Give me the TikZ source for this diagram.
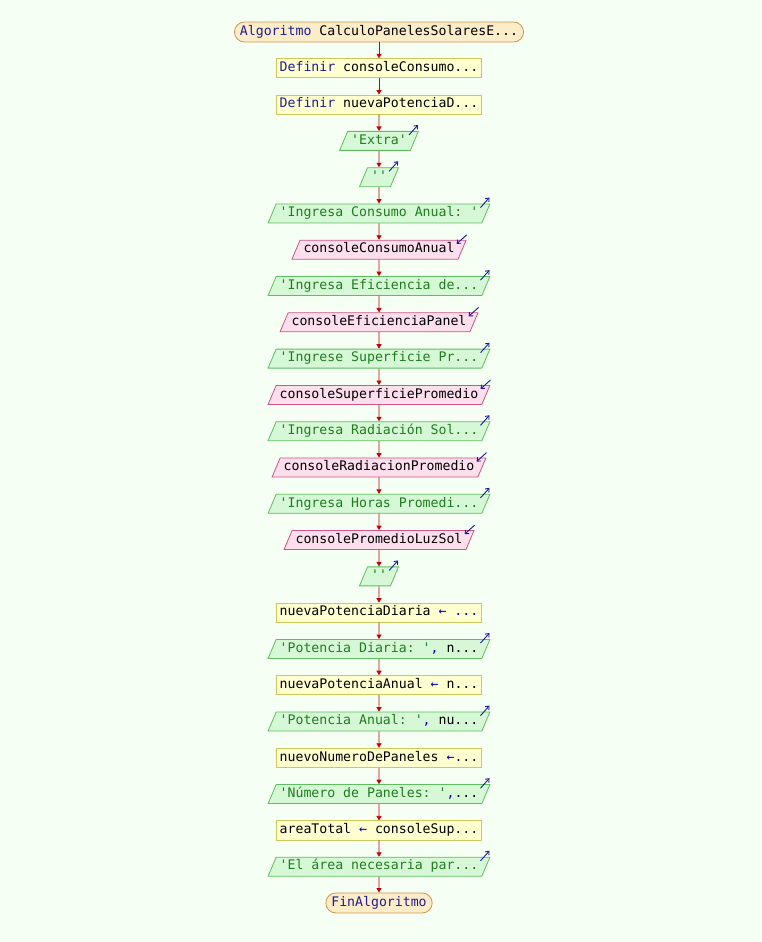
\documentclass[tikz,border=0pt]{standalone}
\usepackage{fontspec}
\setmonofont{DejaVu Sans Mono}
\usetikzlibrary{arrows.meta,positioning,shapes.geometric}

\definecolor{bgpale}{RGB}{246,255,243}
\definecolor{termfill}{RGB}{253,236,200}
\definecolor{termline}{RGB}{205,150,80}
\definecolor{procfill}{RGB}{255,255,208}
\definecolor{procline}{RGB}{205,200,90}
\definecolor{outfill}{RGB}{214,248,214}
\definecolor{outborder}{RGB}{95,190,95}
\definecolor{infill}{RGB}{252,222,236}
\definecolor{inborder}{RGB}{205,85,135}
\definecolor{kwblue}{RGB}{30,30,150}
\definecolor{strgreen}{RGB}{30,125,30}
\definecolor{flowred}{RGB}{200,0,0}
\definecolor{markblue}{RGB}{25,25,160}

\newcommand{\kwd}[1]{\textcolor{kwblue}{#1}}
\newcommand{\opr}[1]{\textcolor{blue!75!black}{#1}}

\begin{document}
\begin{tikzpicture}[x=1pt, y=1pt,
  node distance=36.29pt, on grid,
  every node/.style={font=\ttfamily\fontsize{13.2}{15}\selectfont,
    text height=9.5pt, text depth=3pt, line width=0.8pt},
  terminal/.style={draw=termline, fill=termfill, rounded corners=10pt,
    minimum height=20pt, inner xsep=5.5pt},
  process/.style={draw=procline, fill=procfill, minimum height=19pt,
    minimum width=205pt, inner xsep=3.5pt},
  io/.style={trapezium, trapezium left angle=67, trapezium right angle=113,
    inner xsep=3.5pt, inner ysep=3.25pt},
  outbox/.style={io, draw=outborder, fill=outfill, text=strgreen},
  inbox/.style={io, draw=inborder, fill=infill},
  flow/.style={draw=flowred, line width=0.8pt, -{Triangle[length=4.5pt,width=5pt]}},
  iomark/.style={draw=markblue, line width=0.9pt, -{Straight Barb[length=3pt,width=5pt]}},
]
  % page background
  \fill[bgpale] (0,0) rectangle (761,-942);

  \node[terminal] (start) at (379,-32) {\kwd{Algoritmo} CalculoPanelesSolaresE...};
  \node[process, below=of start] (defA) {\kwd{Definir} consoleConsumo...};
  \node[process, below=of defA] (defB) {\kwd{Definir} nuevaPotenciaD...};
  \node[outbox, below=of defB] (outExtra) {'Extra'};
  \node[outbox, below=of outExtra] (outBlank) {''};
  \node[outbox, below=of outBlank] (outConsumo) {'Ingresa Consumo Anual: '};
  \node[inbox, below=of outConsumo] (inConsumo) {consoleConsumoAnual};
  \node[outbox, below=of inConsumo] (outEficiencia) {'Ingresa Eficiencia de...};
  \node[inbox, below=of outEficiencia] (inEficiencia) {consoleEficienciaPanel};
  \node[outbox, below=of inEficiencia] (outSuperficie) {'Ingrese Superficie Pr...};
  \node[inbox, below=of outSuperficie] (inSuperficie) {consoleSuperficiePromedio};
  \node[outbox, below=of inSuperficie] (outRadiacion) {'Ingresa Radiación Sol...};
  \node[inbox, below=of outRadiacion] (inRadiacion) {consoleRadiacionPromedio};
  \node[outbox, below=of inRadiacion] (outHoras) {'Ingresa Horas Promedi...};
  \node[inbox, below=of outHoras] (inHoras) {consolePromedioLuzSol};
  \node[outbox, below=of inHoras] (outBlankB) {''};
  \node[process, below=of outBlankB] (calcDiaria) {nuevaPotenciaDiaria \opr{← ...}};
  \node[outbox, below=of calcDiaria] (outDiaria) {'Potencia Diaria: '\opr{,} \textcolor{black}{n...}};
  \node[process, below=of outDiaria] (calcAnual) {nuevaPotenciaAnual \opr{←} n...};
  \node[outbox, below=of calcAnual] (outAnual) {'Potencia Anual: '\opr{,} \textcolor{black}{nu...}};
  \node[process, below=of outAnual] (calcPaneles) {nuevoNumeroDePaneles \opr{←}...};
  \node[outbox, below=of calcPaneles] (outPaneles) {'Número de Paneles: '\opr{,}\textcolor{black}{...}};
  \node[process, below=of outPaneles] (calcArea) {areaTotal \opr{←} consoleSup...};
  \node[outbox, below=of calcArea] (outArea) {'El área necesaria par...};
  \node[terminal, below=of outArea] (finish) {\kwd{FinAlgoritmo}};

  % connectors
  \foreach \a/\b in {start/defA, defA/defB, defB/outExtra, outExtra/outBlank,
      outBlank/outConsumo, outConsumo/inConsumo, inConsumo/outEficiencia,
      outEficiencia/inEficiencia, inEficiencia/outSuperficie,
      outSuperficie/inSuperficie, inSuperficie/outRadiacion,
      outRadiacion/inRadiacion, inRadiacion/outHoras, outHoras/inHoras,
      inHoras/outBlankB, outBlankB/calcDiaria, calcDiaria/outDiaria,
      outDiaria/calcAnual, calcAnual/outAnual, outAnual/calcPaneles,
      calcPaneles/outPaneles, outPaneles/calcArea, calcArea/outArea,
      outArea/finish}
    \draw[flow] (\a) -- (\b);

  % little arrows at the corners of the in/out boxes
  \foreach \n in {outExtra, outBlank, outConsumo, outEficiencia, outSuperficie,
      outRadiacion, outHoras, outBlankB, outDiaria, outAnual, outPaneles, outArea}
    \draw[iomark] ([shift={(-10,-4)}]\n.top right corner) -- ++(9,10);
  \foreach \n in {inConsumo, inEficiencia, inSuperficie, inRadiacion, inHoras}
    \draw[iomark] ([shift={(0,5)}]\n.top right corner) -- ++(-10,-9);
\end{tikzpicture}
\end{document}
